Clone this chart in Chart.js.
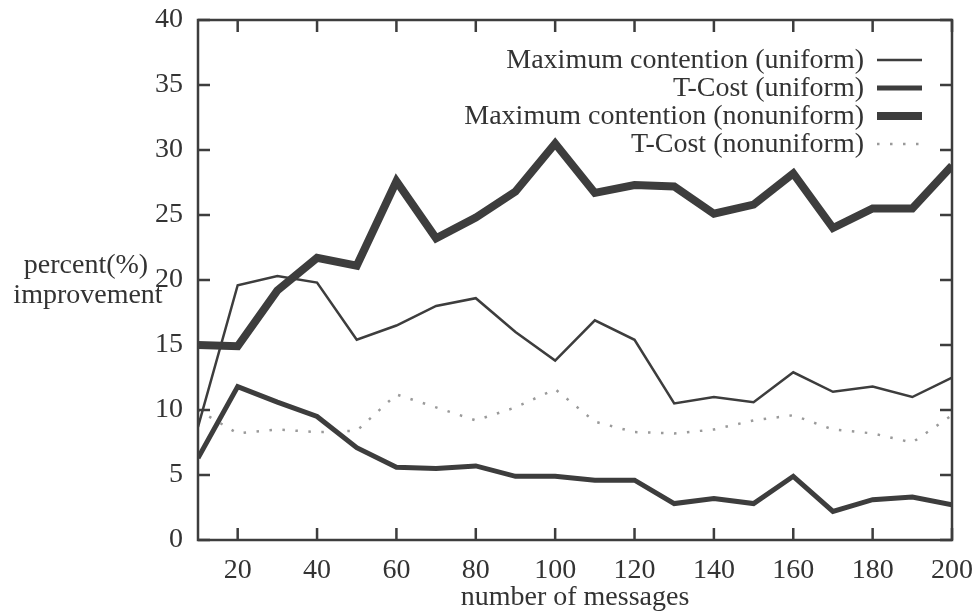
<!DOCTYPE html>
<html>
<head>
<meta charset="utf-8">
<script src="https://cdn.jsdelivr.net/npm/chart.js@4"></script>
<style>
  html, body { margin: 0; padding: 0; background: #fff; }
  canvas { display: block; }
</style>
</head>
<body>
<canvas id="myChart" width="975" height="611"></canvas>
<script>
'use strict';

// number of messages
const messages = [10, 20, 30, 40, 50, 60, 70, 80, 90, 100, 110, 120, 130, 140, 150, 160, 170, 180, 190, 200];

// percent improvement
const maxContUniform    = [8.7, 19.6, 20.3, 19.8, 15.4, 16.5, 18.0, 18.6, 16.0, 13.8, 16.9, 15.4, 10.5, 11.0, 10.6, 12.9, 11.4, 11.8, 11.0, 12.5];
const tCostUniform      = [6.3, 11.8, 10.6, 9.5, 7.1, 5.6, 5.5, 5.7, 4.9, 4.9, 4.6, 4.6, 2.8, 3.2, 2.8, 4.9, 2.2, 3.1, 3.3, 2.7];
const maxContNonuniform = [15.0, 14.9, 19.2, 21.7, 21.1, 27.6, 23.2, 24.8, 26.8, 30.5, 26.7, 27.3, 27.2, 25.1, 25.8, 28.2, 24.0, 25.5, 25.5, 28.8];
const tCostNonuniform   = [10.0, 8.2, 8.5, 8.3, 8.4, 11.2, 10.2, 9.2, 10.2, 11.6, 9.1, 8.3, 8.2, 8.5, 9.2, 9.6, 8.5, 8.2, 7.5, 9.6];

const xTicks = [20, 40, 60, 80, 100, 120, 140, 160, 180, 200];
const yTicks = [0, 5, 10, 15, 20, 25, 30, 35, 40];

const ink = '#333333';
const fontFamily = '"Liberation Serif", "Times New Roman", serif';

const toPoints = arr => arr.map((v, i) => ({ x: messages[i], y: v }));

const data = {
    datasets: [
        {
            label: 'Maximum contention (uniform)',
            data: toPoints(maxContUniform),
            borderColor: '#3d3d3d',
            borderWidth: 2.5
        },
        {
            label: 'T-Cost (uniform)',
            data: toPoints(tCostUniform),
            borderColor: '#3d3d3d',
            borderWidth: 5
        },
        {
            label: 'Maximum contention (nonuniform)',
            data: toPoints(maxContNonuniform),
            borderColor: '#3d3d3d',
            borderWidth: 8
        },
        {
            label: 'T-Cost (nonuniform)',
            data: toPoints(tCostNonuniform),
            borderColor: '#9a9a9a',
            borderWidth: 2.5,
            borderDash: [2.5, 10.5]
        }
    ]
};

// frame with inward ticks, legend and axis titles
const framePlugin = {
    id: 'frame',
    afterDatasetsDraw(chart) {
        const { ctx, chartArea: a, scales: { x, y } } = chart;
        ctx.save();
        ctx.strokeStyle = '#3d3d3d';
        ctx.lineWidth = 2.5;
        ctx.strokeRect(a.left, a.top, a.right - a.left, a.bottom - a.top);

        ctx.beginPath();
        xTicks.forEach(v => {
            const px = x.getPixelForValue(v);
            ctx.moveTo(px, a.bottom); ctx.lineTo(px, a.bottom - 12);
            ctx.moveTo(px, a.top); ctx.lineTo(px, a.top + 12);
        });
        yTicks.forEach(v => {
            const py = y.getPixelForValue(v);
            ctx.moveTo(a.left, py); ctx.lineTo(a.left + 12, py);
            ctx.moveTo(a.right, py); ctx.lineTo(a.right - 12, py);
        });
        ctx.stroke();

        // legend, text right-aligned with sample line after it
        ctx.font = '28px ' + fontFamily;
        ctx.fillStyle = ink;
        ctx.textAlign = 'right';
        ctx.textBaseline = 'alphabetic';
        chart.data.datasets.forEach((ds, i) => {
            const base = 68 + i * 28;
            ctx.fillText(ds.label, 864, base);
            ctx.save();
            ctx.strokeStyle = ds.borderColor;
            ctx.lineWidth = ds.borderWidth;
            ctx.setLineDash(ds.borderDash || []);
            ctx.beginPath();
            ctx.moveTo(877, base - 8);
            ctx.lineTo(922, base - 8);
            ctx.stroke();
            ctx.restore();
        });

        // axis titles
        ctx.textAlign = 'center';
        ctx.fillText('percent(%)', 86, 273);
        ctx.fillText('improvement', 88, 303);
        ctx.fillText('number of messages', (a.left + a.right) / 2, 605);
        ctx.restore();
    }
};

const ctx = document.getElementById('myChart').getContext('2d');
const myChart = new Chart(ctx, {
    type: 'line',
    data: data,
    options: {
        responsive: false,
        devicePixelRatio: 1,
        animation: false,
        layout: { padding: { top: 20, right: 23, left: 0, bottom: 0 } },
        elements: {
            point: { radius: 0 },
            line: { tension: 0, fill: false }
        },
        plugins: {
            legend: { display: false },
            tooltip: { enabled: false }
        },
        scales: {
            x: {
                type: 'linear',
                min: 10,
                max: 200,
                afterBuildTicks: s => { s.ticks = xTicks.map(v => ({ value: v })); },
                afterFit: s => { s.height = 71; s.paddingLeft = 0; s.paddingRight = 0; },
                grid: { display: false, drawTicks: false, tickLength: 0 },
                border: { display: false },
                ticks: {
                    color: ink,
                    font: { family: fontFamily, size: 28 },
                    padding: 14,
                    maxRotation: 0,
                    autoSkip: false
                }
            },
            y: {
                min: 0,
                max: 40,
                afterBuildTicks: s => { s.ticks = yTicks.map(v => ({ value: v })); },
                afterFit: s => { s.width = 198; s.paddingTop = 0; s.paddingBottom = 0; },
                grid: { display: false, drawTicks: false, tickLength: 0 },
                border: { display: false },
                ticks: {
                    color: ink,
                    font: { family: fontFamily, size: 28 },
                    padding: 15
                }
            }
        }
    },
    plugins: [framePlugin]
});
</script>
</body>
</html>
